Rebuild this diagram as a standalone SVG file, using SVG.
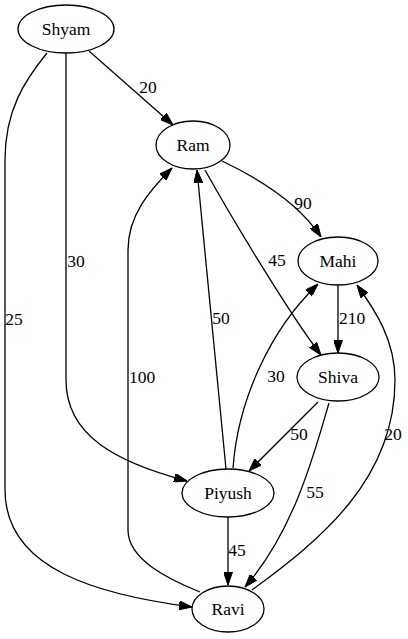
<svg xmlns="http://www.w3.org/2000/svg" width="408" height="639" viewBox="0 0 408 639">
<style>
ellipse{fill:none;stroke:#000;stroke-width:1.3}
.e path{fill:none;stroke:#000;stroke-width:1.3;marker-end:url(#ah)}
</style>
<defs>
<marker id="ah" viewBox="0 0 13 9" refX="13" refY="4.5" markerWidth="13" markerHeight="9" markerUnits="userSpaceOnUse" orient="auto">
<path d="M0,0 L13,4.5 L0,9 z" fill="#000" stroke="#000" stroke-width="1"/>
</marker>
</defs>
<g id="edges" class="e">
<path d="M89,51 L173,125"/>
<path d="M66,53 L66,380 C66,435 115,462 187,481"/>
<path d="M47,53 C25,80 5,110 5,160 L5,490 C5,570 100,595 192,607"/>
<path d="M222,161 C262,180 300,205 321,237"/>
<path d="M205,170 C230,215 290,315 321,355"/>
<path d="M338,285 L338,353"/>
<path d="M226,469 L197,170"/>
<path d="M233,468 C238,400 270,330 318,284"/>
<path d="M318,402 L249,471"/>
<path d="M329,403 C315,450 295,530 245,587"/>
<path d="M200,592 C170,580 128,560 128,530 L128,250 C128,215 150,190 172,168"/>
<path d="M252,590 C320,540 395,480 395,380 C395,340 375,310 357,285"/>
<path d="M228,517 L228,585"/>
</g>
<g font-family="'Liberation Serif', 'Times New Roman', Times, serif" font-size="17.5" text-anchor="middle" dominant-baseline="central" fill="#000">
<g id="edge-labels">
<text x="148" y="87">20</text>
<text x="76" y="261">30</text>
<text x="14" y="319">25</text>
<text x="303" y="203">90</text>
<text x="277" y="260">45</text>
<text x="352" y="318">210</text>
<text x="221" y="318">50</text>
<text x="276" y="376">30</text>
<text x="142" y="377">100</text>
<text x="299" y="434">50</text>
<text x="315" y="492">55</text>
<text x="393" y="434">20</text>
<text x="237" y="550">45</text>
</g>
<g id="node-Shyam"><ellipse cx="66" cy="29" rx="48" ry="24"/><text x="66" y="29">Shyam</text></g>
<g id="node-Ram"><ellipse cx="193" cy="145" rx="37" ry="24"/><text x="193" y="145">Ram</text></g>
<g id="node-Mahi"><ellipse cx="338" cy="261" rx="40" ry="24"/><text x="338" y="261">Mahi</text></g>
<g id="node-Shiva"><ellipse cx="338" cy="377" rx="41" ry="24"/><text x="338" y="377">Shiva</text></g>
<g id="node-Piyush"><ellipse cx="228" cy="493" rx="46" ry="24"/><text x="228" y="493">Piyush</text></g>
<g id="node-Ravi"><ellipse cx="228" cy="609" rx="36" ry="23"/><text x="228" y="609">Ravi</text></g>
</g>
</svg>
